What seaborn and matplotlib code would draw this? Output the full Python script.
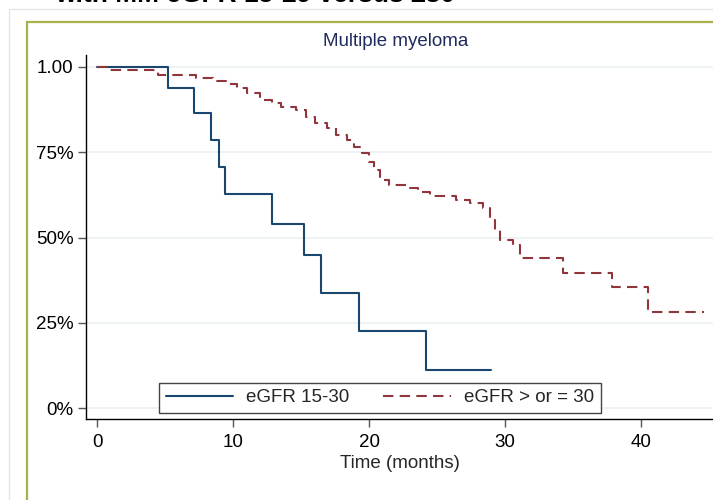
import numpy as np
import pandas as pd
import matplotlib.pyplot as plt
import matplotlib.ticker as mticker
from matplotlib.patches import Rectangle
import seaborn as sns

sns.set_style("white")
plt.rcParams["font.family"] = ["Liberation Sans", "DejaVu Sans"]

NAVY = "#1a476f"
MAROON = "#90353b"

# ── Data ────────────────────────────────────────────────
low_t = [0, 5.2, 7.1, 8.4, 9.0, 9.4, 12.9, 15.2, 16.5, 19.3, 24.2, 29.0]
low_s = [1.0, 0.938, 0.864, 0.786, 0.708, 0.629, 0.540, 0.450, 0.337, 0.226, 0.111, 0.111]

high_t = [0, 0.8, 4.5, 7.3, 8.5, 9.5, 10.3, 11.0, 12.0, 12.9, 13.5, 14.6, 15.4,
          16.0, 16.9, 17.6, 18.4, 18.9, 19.5, 20.0, 20.4, 20.8, 21.5, 23.0,
          23.6, 24.5, 26.4, 27.4, 28.4, 28.9, 29.3, 29.6, 30.6, 31.1, 34.3,
          37.9, 40.5, 44.6]
high_s = [1.0, 0.991, 0.977, 0.967, 0.959, 0.949, 0.938, 0.923, 0.903, 0.894,
          0.884, 0.874, 0.854, 0.835, 0.820, 0.801, 0.786, 0.766, 0.747, 0.722,
          0.698, 0.669, 0.654, 0.644, 0.632, 0.621, 0.610, 0.600, 0.586, 0.551,
          0.522, 0.493, 0.478, 0.439, 0.395, 0.356, 0.283, 0.283]

groups = ["eGFR 15-30", "eGFR > or = 30"]
y_ticks = [0, 0.25, 0.5, 0.75, 1.0]
y_labels = ["0%", "25%", "50%", "75%", "1.00"]
x_ticks = [0, 10, 20, 30, 40]

df = pd.concat([
    pd.DataFrame({"time": low_t, "surv": low_s, "group": groups[0]}),
    pd.DataFrame({"time": high_t, "surv": high_s, "group": groups[1]}),
])

# ── Figure ──────────────────────────────────────────────
fig = plt.figure(figsize=(7.13, 5.0), dpi=100)
W, H = 713, 500
FS = 13.5

# outer frames (graph region)
fig.patches.append(Rectangle((9 / W, -0.1), 1.2, 1 - 9 / H + 0.1,
                             transform=fig.transFigure, fill=False,
                             edgecolor="#e3e6e8", linewidth=1.0))
fig.patches.append(Rectangle((27 / W, -0.1), 1.2, 1 - 22 / H + 0.1,
                             transform=fig.transFigure, fill=False,
                             edgecolor="#a9b04c", linewidth=1.6))

# cropped main title at the very top
fig.text(55 / W, 1 - 2 / H, "with MM eGFR 15-29 versus \u226530",
         fontsize=19, fontweight="bold", ha="left", va="baseline", color="black")

ax = fig.add_axes([86 / W, 81 / H, 1.0, 364 / H])

sns.lineplot(data=df[df["group"] == groups[0]], x="time", y="surv", ax=ax,
             color=NAVY, linewidth=1.5, drawstyle="steps-post",
             estimator=None, label=groups[0])
sns.lineplot(data=df[df["group"] == groups[1]], x="time", y="surv", ax=ax,
             color=MAROON, linewidth=1.5, drawstyle="steps-post",
             linestyle="--", estimator=None, label=groups[1])
ax.lines[1].set_dashes((5, 3))

ax.set_xlim(-0.81, -0.81 + 713 / 13.6)
ax.set_ylim(-0.032, 1.035)
ax.set_xticks(x_ticks)
ax.set_yticks(y_ticks)
ax.set_yticklabels(y_labels)
ax.yaxis.grid(True, color="#eaf1f3", linewidth=1.2)
ax.xaxis.grid(False)
ax.tick_params(axis="both", direction="out", length=6, width=1,
               color="#555555", labelsize=FS, labelcolor="black", pad=3,
               left=True, bottom=True)
ax.tick_params(axis="x", pad=5)
for side in ["top", "right"]:
    ax.spines[side].set_visible(False)
ax.spines["left"].set_color("black")
ax.spines["bottom"].set_color("black")
ax.spines["left"].set_linewidth(1)
ax.spines["bottom"].set_linewidth(1)

ax.set_xlabel("Time (months)", fontsize=FS)
ax.set_ylabel("")
ax.xaxis.set_label_coords((400 - 86) / W, -(463 - 419) / 364, transform=None)
ax.xaxis.label.set_position((400 / W, 0))
ax.xaxis.label.set_transform(fig.transFigure)
ax.xaxis.label.set_verticalalignment("center")
ax.xaxis.label.set_y(1 - 463 / H)

fig.text(396 / W, 1 - 42 / H, "Multiple myeloma", fontsize=FS,
         color="#1e2b5c", ha="center", va="center")

leg = ax.legend(loc="lower center", bbox_to_anchor=(380 / W, 87 / H),
                bbox_transform=fig.transFigure, ncol=2, fontsize=FS,
                frameon=True, fancybox=False, framealpha=1,
                edgecolor="#444444", handlelength=3.6, columnspacing=1.8,
                borderpad=0.35, handletextpad=0.7, borderaxespad=0)
leg.get_frame().set_linewidth(1.0)

fig.savefig("out.png", dpi=100)
